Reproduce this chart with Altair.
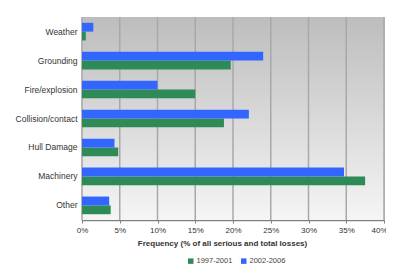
import altair as alt
import pandas as pd

categories = ["Weather", "Grounding", "Fire/explosion", "Collision/contact",
              "Hull Damage", "Machinery", "Other"]
v_1997_2001 = [0.5, 19.7, 15.0, 18.8, 4.8, 37.5, 3.8]
v_2002_2006 = [1.5, 24.0, 10.0, 22.1, 4.3, 34.7, 3.6]
series = ["1997-2001", "2002-2006"]
x_ticks = [0, 5, 10, 15, 20, 25, 30, 35, 40]

rows = []
for c, a, b in zip(categories, v_1997_2001, v_2002_2006):
    rows.append({"cat": c, "period": series[0], "val": a})
    rows.append({"cat": c, "period": series[1], "val": b})
df = pd.DataFrame(rows)

W, H = 302, 203
FONT = "Liberation Sans"

xscale = alt.Scale(domain=[0, 40], nice=False)
xaxis = alt.Axis(values=x_ticks, grid=False, labelOverlap=False, labelFlush=False,
                 labelExpr="datum.value + '%'",
                 labelAlign={"expr": "datum.value == 40 ? 'right' : 'center'"},
                 labelOffset={"expr": "datum.value == 40 ? 3 : 0"},
                 title="Frequency (% of all serious and total losses)",
                 labelFontSize=8, labelColor="#333333", labelFont=FONT,
                 tickSize=3, tickColor="#808080", labelPadding=3,
                 domainColor="#808080", domainWidth=1.5,
                 titleFontSize=8, titleFont=FONT, titleFontWeight="bold",
                 titleColor="#333333", titleX=140, titleY=23.5,
                 titleBaseline="middle", titleAlign="center")

bg = alt.Chart(alt.Data(values=[{"a": 1}])).mark_rect(
    fill=alt.LinearGradient(
        gradient="linear",
        stops=[alt.GradientStop(color="#bdbdbd", offset=0),
               alt.GradientStop(color="#f5f5f5", offset=1)],
        x1=0, x2=0, y1=0, y2=1,
    )
).encode(x=alt.value(0), x2=alt.value(W), y=alt.value(0), y2=alt.value(H))

grid = alt.Chart(pd.DataFrame({"t": x_ticks})).mark_rule(
    color="#a8a8a8", strokeWidth=1.5
).encode(x=alt.X("t:Q", scale=xscale, axis=xaxis))

bars = alt.Chart(df).mark_bar(stroke=None).encode(
    y=alt.Y("cat:N", sort=categories,
            scale=alt.Scale(paddingInner=0.39, paddingOuter=0.2),
            axis=alt.Axis(title=None, ticks=False, labelPadding=5,
                          labelFontSize=8.5, labelColor="#333333", labelFont=FONT,
                          domainColor="#808080", domainWidth=1.5)),
    yOffset=alt.YOffset("period:N", sort=["2002-2006", "1997-2001"],
                        scale=alt.Scale(paddingInner=0, paddingOuter=0)),
    x=alt.X("val:Q", scale=xscale, axis=xaxis),
    color=alt.Color("period:N",
                    scale=alt.Scale(domain=series, range=["#2e8b57", "#3366ff"]),
                    legend=alt.Legend(title=None, orient="none", direction="horizontal",
                                      legendX=105, legendY=240,
                                      symbolType="square", symbolSize=30,
                                      symbolStrokeWidth=0,
                                      labelFontSize=7.5, labelFont=FONT,
                                      labelColor="#444444", columnPadding=7,
                                      labelOffset=2)),
)

chart = alt.layer(bg, grid, bars).properties(
    width=W, height=H,
    autosize=alt.AutoSizeParams(type="none"),
    padding={"left": 74, "top": 9, "right": 2, "bottom": 48},
    background="white",
).configure_view(stroke="#c4c4c4", strokeWidth=1)

chart.save("out.html", embed_options={"renderer": "svg", "actions": False})
